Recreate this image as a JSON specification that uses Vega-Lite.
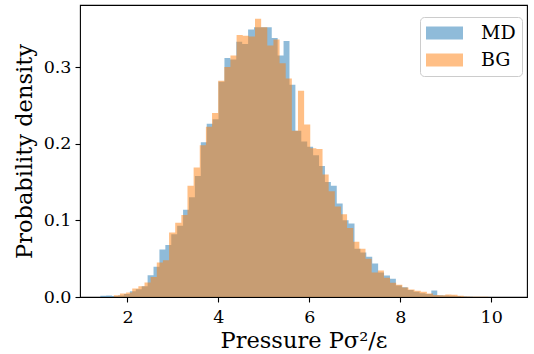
{
  "$schema": "https://vega.github.io/schema/vega-lite/v6.json",
  "width": 447,
  "height": 292,
  "autosize": "none",
  "padding": {"left": 80, "top": 5, "right": 7, "bottom": 57},
  "background": "white",
  "config": {
    "view": {"stroke": "black", "strokeWidth": 1.1},
    "font": "DejaVu Serif",
    "axis": {
      "domain": false,
      "grid": false,
      "tickColor": "black",
      "tickSize": 5,
      "tickWidth": 1.1,
      "labelColor": "black",
      "labelFont": "DejaVu Serif",
      "labelFontSize": 17.5,
      "titleFont": "DejaVu Serif",
      "titleFontSize": 22.5,
      "titleFontWeight": "normal",
      "titleColor": "black"
    }
  },
  "data": {
    "values": [
      {"s": "MD", "a": 1.403, "b": 1.533, "d": 0.0015},
      {"s": "MD", "a": 1.533, "b": 1.663, "d": 0.002},
      {"s": "MD", "a": 1.663, "b": 1.793, "d": 0.0012},
      {"s": "MD", "a": 1.793, "b": 1.923, "d": 0.002},
      {"s": "MD", "a": 1.923, "b": 2.053, "d": 0.004},
      {"s": "MD", "a": 2.053, "b": 2.183, "d": 0.0076},
      {"s": "MD", "a": 2.183, "b": 2.313, "d": 0.010},
      {"s": "MD", "a": 2.313, "b": 2.443, "d": 0.014},
      {"s": "MD", "a": 2.443, "b": 2.573, "d": 0.0285},
      {"s": "MD", "a": 2.573, "b": 2.703, "d": 0.0395},
      {"s": "MD", "a": 2.703, "b": 2.833, "d": 0.062},
      {"s": "MD", "a": 2.833, "b": 2.963, "d": 0.068},
      {"s": "MD", "a": 2.963, "b": 3.093, "d": 0.082},
      {"s": "MD", "a": 3.093, "b": 3.223, "d": 0.093},
      {"s": "MD", "a": 3.223, "b": 3.353, "d": 0.114},
      {"s": "MD", "a": 3.353, "b": 3.483, "d": 0.130},
      {"s": "MD", "a": 3.483, "b": 3.613, "d": 0.158},
      {"s": "MD", "a": 3.613, "b": 3.743, "d": 0.202},
      {"s": "MD", "a": 3.743, "b": 3.873, "d": 0.226},
      {"s": "MD", "a": 3.873, "b": 4.003, "d": 0.232},
      {"s": "MD", "a": 4.003, "b": 4.133, "d": 0.281},
      {"s": "MD", "a": 4.133, "b": 4.263, "d": 0.312},
      {"s": "MD", "a": 4.263, "b": 4.393, "d": 0.310},
      {"s": "MD", "a": 4.393, "b": 4.523, "d": 0.333},
      {"s": "MD", "a": 4.523, "b": 4.653, "d": 0.330},
      {"s": "MD", "a": 4.653, "b": 4.783, "d": 0.349},
      {"s": "MD", "a": 4.783, "b": 4.913, "d": 0.352},
      {"s": "MD", "a": 4.913, "b": 5.043, "d": 0.352},
      {"s": "MD", "a": 5.043, "b": 5.173, "d": 0.352},
      {"s": "MD", "a": 5.173, "b": 5.303, "d": 0.338},
      {"s": "MD", "a": 5.303, "b": 5.433, "d": 0.315},
      {"s": "MD", "a": 5.433, "b": 5.563, "d": 0.334},
      {"s": "MD", "a": 5.563, "b": 5.693, "d": 0.277},
      {"s": "MD", "a": 5.693, "b": 5.823, "d": 0.217},
      {"s": "MD", "a": 5.823, "b": 5.953, "d": 0.203},
      {"s": "MD", "a": 5.953, "b": 6.083, "d": 0.196},
      {"s": "MD", "a": 6.083, "b": 6.213, "d": 0.185},
      {"s": "MD", "a": 6.213, "b": 6.343, "d": 0.171},
      {"s": "MD", "a": 6.343, "b": 6.473, "d": 0.150},
      {"s": "MD", "a": 6.473, "b": 6.603, "d": 0.145},
      {"s": "MD", "a": 6.603, "b": 6.733, "d": 0.122},
      {"s": "MD", "a": 6.733, "b": 6.863, "d": 0.100},
      {"s": "MD", "a": 6.863, "b": 6.993, "d": 0.096},
      {"s": "MD", "a": 6.993, "b": 7.123, "d": 0.063},
      {"s": "MD", "a": 7.123, "b": 7.253, "d": 0.058},
      {"s": "MD", "a": 7.253, "b": 7.383, "d": 0.0526},
      {"s": "MD", "a": 7.383, "b": 7.513, "d": 0.0438},
      {"s": "MD", "a": 7.513, "b": 7.643, "d": 0.032},
      {"s": "MD", "a": 7.643, "b": 7.773, "d": 0.028},
      {"s": "MD", "a": 7.773, "b": 7.903, "d": 0.0238},
      {"s": "MD", "a": 7.903, "b": 8.033, "d": 0.015},
      {"s": "MD", "a": 8.033, "b": 8.163, "d": 0.0128},
      {"s": "MD", "a": 8.163, "b": 8.293, "d": 0.009},
      {"s": "MD", "a": 8.293, "b": 8.423, "d": 0.007},
      {"s": "MD", "a": 8.423, "b": 8.553, "d": 0.005},
      {"s": "MD", "a": 8.553, "b": 8.683, "d": 0.004},
      {"s": "MD", "a": 8.683, "b": 8.813, "d": 0.0085},
      {"s": "MD", "a": 8.813, "b": 8.943, "d": 0.0024},
      {"s": "MD", "a": 8.943, "b": 9.073, "d": 0.002},
      {"s": "MD", "a": 9.073, "b": 9.203, "d": 0.0015},
      {"s": "MD", "a": 9.203, "b": 9.333, "d": 0.0012},
      {"s": "MD", "a": 9.333, "b": 9.463, "d": 0.0008},
      {"s": "MD", "a": 9.463, "b": 9.593, "d": 0.0003},
      {"s": "MD", "a": 9.593, "b": 9.723, "d": 0.0002},
      {"s": "BG", "a": 1.700, "b": 1.835, "d": 0.0024},
      {"s": "BG", "a": 1.835, "b": 1.970, "d": 0.0046},
      {"s": "BG", "a": 1.970, "b": 2.105, "d": 0.006},
      {"s": "BG", "a": 2.105, "b": 2.240, "d": 0.011},
      {"s": "BG", "a": 2.240, "b": 2.375, "d": 0.014},
      {"s": "BG", "a": 2.375, "b": 2.510, "d": 0.019},
      {"s": "BG", "a": 2.510, "b": 2.645, "d": 0.026},
      {"s": "BG", "a": 2.645, "b": 2.780, "d": 0.045},
      {"s": "BG", "a": 2.780, "b": 2.915, "d": 0.048},
      {"s": "BG", "a": 2.915, "b": 3.050, "d": 0.084},
      {"s": "BG", "a": 3.050, "b": 3.185, "d": 0.097},
      {"s": "BG", "a": 3.185, "b": 3.320, "d": 0.107},
      {"s": "BG", "a": 3.320, "b": 3.455, "d": 0.145},
      {"s": "BG", "a": 3.455, "b": 3.590, "d": 0.169},
      {"s": "BG", "a": 3.590, "b": 3.725, "d": 0.198},
      {"s": "BG", "a": 3.725, "b": 3.860, "d": 0.222},
      {"s": "BG", "a": 3.860, "b": 3.995, "d": 0.240},
      {"s": "BG", "a": 3.995, "b": 4.130, "d": 0.282},
      {"s": "BG", "a": 4.130, "b": 4.265, "d": 0.300},
      {"s": "BG", "a": 4.265, "b": 4.400, "d": 0.315},
      {"s": "BG", "a": 4.400, "b": 4.535, "d": 0.342},
      {"s": "BG", "a": 4.535, "b": 4.670, "d": 0.341},
      {"s": "BG", "a": 4.670, "b": 4.805, "d": 0.340},
      {"s": "BG", "a": 4.805, "b": 4.940, "d": 0.363},
      {"s": "BG", "a": 4.940, "b": 5.075, "d": 0.352},
      {"s": "BG", "a": 5.075, "b": 5.210, "d": 0.328},
      {"s": "BG", "a": 5.210, "b": 5.345, "d": 0.336},
      {"s": "BG", "a": 5.345, "b": 5.480, "d": 0.305},
      {"s": "BG", "a": 5.480, "b": 5.615, "d": 0.285},
      {"s": "BG", "a": 5.615, "b": 5.750, "d": 0.217},
      {"s": "BG", "a": 5.750, "b": 5.885, "d": 0.269},
      {"s": "BG", "a": 5.885, "b": 6.020, "d": 0.225},
      {"s": "BG", "a": 6.020, "b": 6.155, "d": 0.194},
      {"s": "BG", "a": 6.155, "b": 6.290, "d": 0.193},
      {"s": "BG", "a": 6.290, "b": 6.425, "d": 0.160},
      {"s": "BG", "a": 6.425, "b": 6.560, "d": 0.138},
      {"s": "BG", "a": 6.560, "b": 6.695, "d": 0.118},
      {"s": "BG", "a": 6.695, "b": 6.830, "d": 0.108},
      {"s": "BG", "a": 6.830, "b": 6.965, "d": 0.090},
      {"s": "BG", "a": 6.965, "b": 7.100, "d": 0.072},
      {"s": "BG", "a": 7.100, "b": 7.235, "d": 0.063},
      {"s": "BG", "a": 7.235, "b": 7.370, "d": 0.050},
      {"s": "BG", "a": 7.370, "b": 7.505, "d": 0.032},
      {"s": "BG", "a": 7.505, "b": 7.640, "d": 0.0347},
      {"s": "BG", "a": 7.640, "b": 7.775, "d": 0.025},
      {"s": "BG", "a": 7.775, "b": 7.910, "d": 0.0186},
      {"s": "BG", "a": 7.910, "b": 8.045, "d": 0.016},
      {"s": "BG", "a": 8.045, "b": 8.180, "d": 0.0125},
      {"s": "BG", "a": 8.180, "b": 8.315, "d": 0.0098},
      {"s": "BG", "a": 8.315, "b": 8.450, "d": 0.008},
      {"s": "BG", "a": 8.450, "b": 8.585, "d": 0.0068},
      {"s": "BG", "a": 8.585, "b": 8.720, "d": 0.0045},
      {"s": "BG", "a": 8.720, "b": 8.855, "d": 0.0025},
      {"s": "BG", "a": 8.855, "b": 8.990, "d": 0.0024},
      {"s": "BG", "a": 8.990, "b": 9.125, "d": 0.0033},
      {"s": "BG", "a": 9.125, "b": 9.260, "d": 0.003},
      {"s": "BG", "a": 9.260, "b": 9.395, "d": 0.0015},
      {"s": "BG", "a": 9.395, "b": 9.530, "d": 0.0008},
      {"s": "BG", "a": 9.530, "b": 9.665, "d": 0.0004},
      {"s": "BG", "a": 9.665, "b": 9.800, "d": 0.0003},
      {"s": "BG", "a": 9.800, "b": 9.935, "d": 0.0002},
      {"s": "BG", "a": 9.935, "b": 10.070, "d": 0.0001},
      {"s": "BG", "a": 10.070, "b": 10.205, "d": 0.0001},
      {"s": "BG", "a": 10.205, "b": 10.340, "d": 0.0001}
    ]
  },
  "encoding": {
    "x": {
      "field": "a",
      "type": "quantitative",
      "scale": {"domain": [0.956, 10.787], "nice": false, "zero": false},
      "axis": {"values": [2, 4, 6, 8, 10], "format": "d", "labelPadding": 6, "titlePadding": 4},
      "title": "Pressure Pσ²/ε"
    },
    "y": {
      "field": "d",
      "type": "quantitative",
      "stack": null,
      "scale": {"domain": [0, 0.381], "nice": false},
      "axis": {"values": [0, 0.1, 0.2, 0.3], "format": ".1f", "labelPadding": 4, "titlePadding": 7},
      "title": "Probability density"
    },
    "color": {
      "field": "s",
      "type": "nominal",
      "scale": {"domain": ["MD", "BG"], "range": ["#1f77b4", "#ff7f0e"]},
      "legend": {
        "orient": "none",
        "legendX": 340,
        "legendY": 12,
        "title": null,
        "symbolType": "M-1,-0.35H1V0.35H-1Z",
        "symbolSize": 1369,
        "symbolOpacity": 0.5,
        "symbolStrokeWidth": 0,
        "clipHeight": 20,
        "labelFont": "DejaVu Serif",
        "labelFontSize": 19,
        "labelColor": "black",
        "labelOffset": 18,
        "padding": 6,
        "rowPadding": 7,
        "fillColor": "rgba(255,255,255,0.8)",
        "strokeColor": "#cccccc",
        "cornerRadius": 4
      }
    }
  },
  "layer": [
    {
      "transform": [{"filter": "datum.s === 'MD'"}],
      "mark": {"type": "area", "interpolate": "step-after", "opacity": 0.5}
    },
    {
      "transform": [{"filter": "datum.s === 'BG'"}],
      "mark": {"type": "area", "interpolate": "step-after", "opacity": 0.5}
    }
  ]
}
